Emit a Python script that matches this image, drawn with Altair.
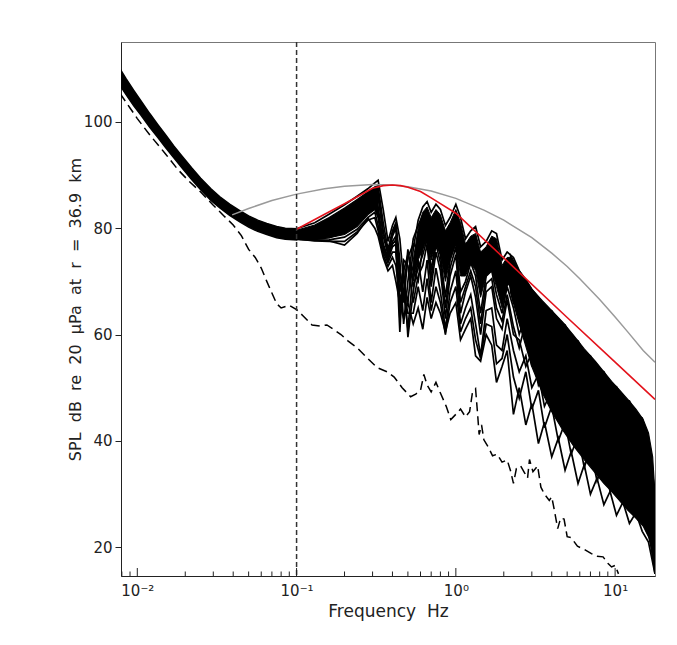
import altair as alt
import pandas as pd

# ---------------- data ----------------
# low-frequency bundle of curves (drawn as a filled band)
lf_freq = [0.0078, 0.0085, 0.0095, 0.0105, 0.012, 0.0135, 0.015, 0.017, 0.019, 0.022,
           0.025, 0.029, 0.033, 0.038, 0.044, 0.05, 0.057, 0.065, 0.075, 0.085, 0.1]
lf_upper = [109.9, 108.1, 105.9, 104.0, 101.5, 99.4, 97.6, 95.4, 93.6, 91.3,
            89.4, 87.4, 85.9, 84.5, 83.3, 82.3, 81.5, 80.9, 80.3, 80.0, 79.9]
lf_lower = [106.8, 105.1, 103.0, 101.3, 98.9, 97.0, 95.2, 93.2, 91.4, 89.1,
            87.2, 85.2, 83.8, 82.4, 81.2, 80.2, 79.4, 78.8, 78.2, 77.9, 77.8]

# 0.1 - 0.33 Hz dense part of the bundle
mid_freq = [0.1, 0.13, 0.16, 0.2, 0.24, 0.28, 0.31, 0.325]
mid_upper = [79.6, 80.6, 82.0, 83.8, 85.4, 86.8, 87.8, 88.0]
mid_lower = [78.0, 78.0, 78.2, 78.8, 80.3, 82.5, 83.5, 82.0]

# 0.55 - 2.2 Hz dense upper part of the fan
fan_freq = [0.54, 0.58, 0.62, 0.66, 0.7, 0.75, 0.8, 0.86, 0.92, 1.0, 1.07,
            1.15, 1.24, 1.33, 1.43, 1.55, 1.68, 1.8, 1.95, 2.1, 2.2]
fan_upper = [74.0, 80.0, 83.0, 84.0, 82.0, 83.5, 82.5, 79.5, 81.0, 83.5, 81.0,
             77.0, 78.5, 79.0, 75.5, 76.5, 78.5, 78.0, 73.0, 74.5, 74.5]
fan_lower = [70.0, 74.0, 76.0, 78.0, 74.0, 77.0, 75.0, 70.0, 74.0, 77.0, 71.0,
             71.0, 73.5, 72.0, 67.0, 71.0, 72.0, 69.0, 65.0, 69.0, 70.0]

# high-frequency dense part of the bundle
hf_freq = [2.2, 2.5, 3.0, 3.5, 4.0, 4.7, 5.5, 6.4, 7.5, 8.5, 9.5, 10.5, 12.0, 13.5, 15.0, 16.2, 17.2, 17.8]
hf_upper = [75.0, 72.0, 68.5, 66.3, 64.5, 62.3, 59.8, 57.3, 55.0, 53.0, 51.2, 49.8, 47.8, 46.0, 44.0, 41.5, 37.0, 30.0]
hf_lower = [68.0, 62.0, 54.0, 49.0, 45.5, 42.0, 39.0, 36.5, 34.0, 32.0, 30.5, 29.0, 27.0, 25.5, 24.0, 22.0, 19.0, 15.0]

# individual spectra from 0.1 Hz upward
grid_freq = [0.1, 0.13, 0.16, 0.2, 0.24, 0.28, 0.31, 0.325, 0.35, 0.375,
             0.4, 0.42, 0.445, 0.47, 0.5, 0.54, 0.58, 0.62, 0.66, 0.7,
             0.75, 0.8, 0.86, 0.92, 1.0, 1.07, 1.15, 1.24, 1.33, 1.43,
             1.55, 1.68, 1.8, 1.95, 2.1, 2.3, 2.5, 2.75, 3.0, 3.3,
             3.6, 4.0, 4.4, 4.85, 5.3, 5.85, 6.4, 7.0, 7.7, 8.5,
             9.3, 10.2, 11.2, 12.3, 13.5, 14.8, 16.2, 17.8]
curve1 = [79.9, 81.0, 82.6, 84.4, 86.0, 87.4, 88.5, 89.0, 83.5, 77.5,
          80.5, 82.0, 78.0, 70.0, 66.0, 76.0, 81.5, 84.0, 85.0, 83.0,
          84.5, 83.5, 80.5, 82.0, 84.5, 82.0, 78.0, 79.5, 80.3, 76.5,
          77.5, 79.5, 79.0, 74.0, 75.5, 74.5, 72.0, 70.3, 68.5, 67.0,
          65.0, 64.5, 62.5, 61.8, 59.5, 58.8, 56.5, 56.0, 53.5, 53.0,
          50.5, 50.2, 47.8, 47.5, 45.0, 44.3, 40.0, 30.0]
curve2 = [79.3, 80.0, 81.3, 83.2, 85.0, 86.5, 87.6, 87.8, 81.0, 76.0,
          79.5, 81.0, 74.0, 62.0, 70.0, 78.0, 80.5, 82.5, 83.0, 80.0,
          82.5, 81.0, 76.0, 80.0, 82.5, 78.0, 74.0, 77.5, 78.5, 72.0,
          75.5, 77.5, 76.0, 70.0, 73.5, 72.0, 68.0, 68.5, 64.0, 65.5,
          61.0, 62.5, 58.5, 60.0, 55.5, 57.0, 52.5, 54.0, 49.5, 51.0,
          46.5, 48.0, 44.0, 45.5, 41.5, 42.0, 37.0, 26.0]
curve3 = [78.7, 79.0, 80.0, 81.8, 83.8, 85.5, 86.8, 86.0, 78.5, 75.0,
          78.5, 80.0, 70.0, 66.0, 74.5, 77.0, 76.0, 80.0, 81.5, 76.0,
          80.5, 78.5, 72.0, 77.5, 80.0, 73.0, 72.0, 76.0, 75.5, 68.0,
          73.5, 75.0, 72.0, 67.0, 71.5, 66.0, 67.0, 61.0, 63.5, 58.0,
          61.0, 55.0, 58.5, 52.5, 55.5, 49.5, 52.5, 46.5, 49.5, 44.0,
          46.5, 41.5, 44.0, 39.0, 41.0, 36.5, 35.0, 22.0]
curve4 = [78.3, 78.4, 79.0, 80.5, 82.5, 84.3, 85.5, 84.0, 77.0, 74.5,
          77.5, 78.5, 65.0, 72.0, 75.0, 72.0, 70.0, 76.5, 79.5, 72.0,
          78.0, 75.0, 67.0, 74.0, 77.5, 68.0, 70.0, 73.5, 71.0, 64.0,
          71.0, 72.0, 67.5, 64.0, 69.0, 65.0, 60.0, 64.0, 56.0, 60.5,
          53.0, 57.5, 50.5, 55.0, 47.5, 52.0, 45.0, 49.0, 42.0, 46.0,
          39.5, 43.0, 37.5, 40.5, 35.5, 37.0, 31.0, 19.0]
curve5 = [78.0, 77.9, 78.2, 79.2, 81.0, 83.0, 84.0, 82.0, 76.0, 74.0,
          76.5, 77.0, 60.5, 74.0, 73.0, 66.0, 71.0, 73.0, 77.0, 69.0,
          75.5, 72.0, 63.0, 71.0, 75.0, 64.0, 68.0, 71.0, 67.0, 60.0,
          68.0, 69.0, 63.0, 61.0, 66.5, 60.0, 59.0, 54.0, 56.5, 50.5,
          53.0, 47.0, 50.0, 44.5, 47.0, 42.0, 44.5, 39.5, 42.0, 37.5,
          39.5, 35.0, 37.0, 33.0, 34.5, 31.5, 28.0, 17.0]
curve6 = [77.9, 77.7, 77.8, 78.3, 79.8, 82.0, 83.0, 80.5, 75.5, 73.5,
          75.5, 75.5, 68.0, 72.5, 59.5, 68.0, 74.0, 68.0, 74.0, 66.0,
          72.5, 68.0, 61.0, 68.0, 72.0, 62.0, 65.0, 67.5, 62.0, 56.0,
          64.5, 65.0, 58.0, 57.0, 63.0, 57.0, 53.0, 56.0, 50.0, 52.5,
          46.5, 49.5, 44.0, 47.0, 41.5, 44.0, 39.0, 41.5, 36.5, 39.0,
          34.0, 36.5, 32.0, 34.0, 30.0, 31.0, 26.0, 16.0]
curve7 = [78.2, 77.8, 77.6, 76.8, 79.0, 81.9, 80.0, 78.5, 74.5, 72.0,
          73.0, 70.0, 66.0, 63.0, 66.0, 62.0, 65.0, 61.0, 67.0, 63.0,
          66.0, 64.0, 60.5, 64.0, 66.0, 59.0, 61.0, 63.0, 56.0, 55.0,
          60.0, 58.0, 51.0, 54.0, 57.0, 45.0, 50.0, 43.0, 47.0, 39.5,
          43.5, 37.0, 40.5, 34.5, 38.0, 32.0, 35.5, 30.0, 33.0, 28.0,
          30.5, 26.0, 28.5, 24.5, 26.5, 23.0, 21.0, 15.0]
curve8 = [79.0, 79.5, 80.6, 82.5, 84.4, 86.0, 87.2, 86.8, 79.5, 75.5,
          79.0, 80.5, 72.0, 68.0, 61.0, 72.0, 79.0, 81.5, 82.0, 78.0,
          81.5, 80.0, 74.0, 79.0, 81.5, 75.5, 73.0, 77.0, 77.0, 70.0,
          74.5, 76.5, 74.0, 68.5, 72.5, 70.0, 66.0, 67.5, 62.0, 64.0,
          59.0, 61.0, 56.5, 59.0, 53.5, 56.0, 50.5, 53.0, 47.5, 50.0,
          45.0, 47.0, 42.5, 44.5, 40.0, 41.0, 36.0, 24.0]
curve9 = [78.1, 78.1, 78.6, 79.8, 81.8, 83.6, 84.8, 83.0, 76.5, 74.2,
          77.0, 77.8, 63.0, 68.0, 76.0, 69.0, 72.5, 75.0, 78.0, 70.5,
          77.0, 73.5, 65.0, 72.5, 76.5, 66.0, 69.0, 72.0, 69.0, 62.0,
          69.5, 70.5, 65.0, 62.5, 67.5, 61.5, 57.5, 62.5, 54.0, 59.0,
          51.0, 56.0, 48.5, 53.5, 46.0, 50.5, 43.0, 47.5, 40.0, 44.5,
          38.0, 41.5, 35.5, 39.0, 34.0, 35.5, 30.0, 17.5]
curve10 = [78.0, 77.6, 77.5, 77.5, 79.3, 81.5, 82.0, 79.5, 75.0, 72.8,
           74.5, 73.0, 67.0, 68.0, 64.0, 64.0, 69.0, 64.5, 70.5, 64.5,
           69.0, 66.0, 60.0, 66.0, 69.0, 60.5, 63.0, 65.0, 59.0, 55.5,
           62.0, 61.5, 54.5, 55.5, 60.0, 52.0, 48.0, 53.0, 46.0, 49.5,
           42.5, 46.5, 40.0, 43.5, 37.5, 41.0, 35.0, 38.5, 32.5, 36.0,
           30.5, 33.5, 28.5, 31.0, 27.0, 28.5, 23.5, 15.0]

# red model curve
red_freq = [0.1, 0.15, 0.2, 0.25, 0.3, 0.35, 0.4, 0.45, 0.5, 0.6, 0.7, 0.8, 1.0, 2.0, 5.0, 10.0, 17.8]
red_spl = [79.8, 82.6, 84.6, 86.2, 87.5, 88.0, 88.1, 88.0, 87.7, 86.9, 85.7, 84.6, 82.8, 74.4, 63.2, 54.8, 47.8]

# grey model curve
gray_freq = [0.0394, 0.05, 0.07, 0.1, 0.15, 0.2, 0.3, 0.4, 0.5, 0.7, 1.0, 1.5, 2.0,
             3.0, 4.0, 5.0, 6.0, 8.0, 10.0, 12.0, 15.0, 17.8]
gray_spl = [82.5, 83.7, 85.2, 86.4, 87.4, 87.9, 88.2, 88.1, 87.8, 87.0, 85.6, 83.4, 81.5,
            78.2, 75.3, 72.8, 70.5, 66.6, 63.3, 60.5, 57.0, 54.8]

# dashed (noise) curve
dash_freq = [0.0078, 0.009, 0.01, 0.012, 0.015, 0.018, 0.021, 0.025, 0.03, 0.035,
             0.04, 0.045, 0.05, 0.055, 0.06, 0.065, 0.07, 0.075, 0.08, 0.09,
             0.1, 0.11, 0.125, 0.14, 0.155, 0.17, 0.19, 0.21, 0.24, 0.28,
             0.32, 0.37, 0.41, 0.46, 0.52, 0.56, 0.6, 0.63, 0.66, 0.7,
             0.75, 0.8, 0.87, 0.93, 1.0, 1.07, 1.15, 1.22, 1.27, 1.33,
             1.37, 1.4, 1.45, 1.5, 1.6, 1.7, 1.82, 1.95, 2.1, 2.2,
             2.3, 2.4, 2.55, 2.7, 2.82, 2.9, 3.05, 3.26, 3.42, 3.6,
             3.86, 4.0, 4.16, 4.36, 4.55, 4.78, 5.0, 5.3, 5.8, 6.4,
             7.1, 7.7, 8.4, 9.0, 9.5, 10.0, 10.5]
dash_spl = [105.3, 102.6, 100.6, 97.5, 94.0, 91.0, 88.9, 86.8, 84.3, 82.3,
            80.6, 78.6, 76.0, 74.5, 72.5, 70.0, 67.8, 65.8, 65.0, 65.5,
            64.7, 63.5, 61.8, 61.6, 61.8, 61.0, 60.0, 58.8, 57.5, 55.5,
            53.8, 53.0, 52.0, 50.0, 48.3, 48.8, 49.5, 52.5, 50.5, 49.2,
            51.0, 49.0, 46.5, 44.0, 45.0, 46.0, 44.5, 45.5, 49.0, 49.8,
            45.0, 41.2, 43.0, 40.2, 38.8, 37.2, 37.5, 36.0, 36.4, 34.5,
            32.0, 34.8, 35.3, 34.0, 33.0, 36.5, 34.2, 35.3, 31.3, 30.0,
            28.8, 29.5, 26.9, 23.5, 25.5, 25.3, 22.0, 21.8, 20.2, 19.6,
            18.8, 18.3, 18.2, 17.0, 16.3, 16.6, 15.0]

cutoff_freq = [0.1]

# axes
x_major = [0.01, 0.1, 1, 10]
x_major_labels = ["10\u207b\u00b2", "10\u207b\u00b9", "10\u2070", "10\u00b9"]
x_minor = [0.008, 0.009, 0.02, 0.03, 0.04, 0.05, 0.06, 0.07, 0.08, 0.09,
           0.2, 0.3, 0.4, 0.5, 0.6, 0.7, 0.8, 0.9, 2, 3, 4, 5, 6, 7, 8, 9]
y_ticks = [20, 40, 60, 80, 100]
x_domain = [0.0079, 17.8]
y_domain = [14.6, 115.0]

x_title_words = ["Frequency", "Hz"]
y_title_words = ["SPL", "dB", "re", "20", "\u03bcPa", "at", "r", "=", "36.9", "km"]

# ---------------- build tables ----------------
curves = [curve1, curve2, curve3, curve4, curve5, curve6, curve7, curve8, curve9, curve10]
for c in curves:
    assert len(c) == len(grid_freq), len(c)
assert len(dash_freq) == len(dash_spl)

W, H = 534, 534
FONT = "DejaVu Sans"
TXT = "#222222"
GAP = "\u00a0\u00a0"  # wide word gap as in the original typesetting

lf_df = pd.DataFrame({"f": lf_freq, "hi": lf_upper, "lo": lf_lower})
mid_df = pd.DataFrame({"f": mid_freq, "hi": mid_upper, "lo": mid_lower})
fan_df = pd.DataFrame({"f": fan_freq, "hi": fan_upper, "lo": fan_lower})
hf_df = pd.DataFrame({"f": hf_freq, "hi": hf_upper, "lo": hf_lower})
curve_df = pd.concat([
    pd.DataFrame({"f": grid_freq, "spl": c, "run": i}) for i, c in enumerate(curves)
])
red_df = pd.DataFrame({"f": red_freq, "spl": red_spl})
gray_df = pd.DataFrame({"f": gray_freq, "spl": gray_spl})
dash_df = pd.DataFrame({"f": dash_freq, "spl": dash_spl})
cut_df = pd.DataFrame({"f": cutoff_freq})

# inward x ticks (8 px major, 4.5 px minor) expressed in data units of the y scale
px = (y_domain[1] - y_domain[0]) / H
tick_df = pd.DataFrame({
    "f": x_major + x_minor,
    "y0": [y_domain[0]] * (len(x_major) + len(x_minor)),
    "y1": [y_domain[0] + 8 * px] * len(x_major) + [y_domain[0] + 4.5 * px] * len(x_minor),
})

xs = alt.Scale(type="log", domain=x_domain, nice=False)
ys = alt.Scale(domain=y_domain, nice=False, zero=False)

label_expr = " : ".join(
    f"datum.value == {v} ? '{l}'" for v, l in zip(x_major, x_major_labels)
) + " : ''"

X_AXIS = alt.Axis(values=x_major, labelExpr=label_expr, ticks=False,
                  grid=False, title=GAP.join(x_title_words), labelFontSize=15,
                  titleFontSize=17, titleFontWeight="normal", labelPadding=7,
                  titlePadding=5, domainColor=TXT, labelColor=TXT, titleColor=TXT,
                  labelFont=FONT, titleFont=FONT, labelFlush=False)
Y_AXIS = alt.Axis(values=y_ticks, tickSize=6, grid=False,
                  title=GAP.join(y_title_words),
                  labelFontSize=15, titleFontSize=16, titleFontWeight="normal",
                  labelPadding=3, titlePadding=0, domainColor=TXT, tickColor=TXT,
                  labelColor=TXT, titleColor=TXT, labelFont=FONT, titleFont=FONT)

def X(field="f"):
    return alt.X(f"{field}:Q", scale=xs, axis=X_AXIS)

def Y(field):
    return alt.Y(f"{field}:Q", scale=ys, axis=Y_AXIS)

def band(df, sw=1.2):
    return alt.Chart(df).mark_area(color="black", stroke="black", strokeWidth=sw, clip=True).encode(
        x=X(), y=Y("hi"), y2="lo:Q",
    )

lf_layer = band(lf_df, 1.5)
mid_layer = band(mid_df)
fan_layer = band(fan_df, 1.0)
hf_layer = band(hf_df)

curve_layer = alt.Chart(curve_df).mark_line(color="black", strokeWidth=1.7, clip=True).encode(
    x=X(), y=Y("spl"), detail="run:N",
)
gray_layer = alt.Chart(gray_df).mark_line(color="#9a9a9a", strokeWidth=1.5, clip=True).encode(
    x=X(), y=Y("spl"),
)
red_layer = alt.Chart(red_df).mark_line(color="#e3121b", strokeWidth=1.6, clip=True).encode(
    x=X(), y=Y("spl"),
)
dash_layer = alt.Chart(dash_df).mark_line(color="black", strokeWidth=1.5, strokeDash=[9, 5], clip=True).encode(
    x=X(), y=Y("spl"),
)
cut_layer = alt.Chart(cut_df).mark_rule(color="#333333", strokeWidth=1.5, strokeDash=[5, 3]).encode(
    x=X(),
)
tick_layer = alt.Chart(tick_df).mark_rule(color=TXT, strokeWidth=1).encode(
    x=X(), y=Y("y0"), y2="y1:Q",
)

chart = alt.layer(
    lf_layer, mid_layer, fan_layer, hf_layer, curve_layer,
    gray_layer, red_layer, dash_layer, cut_layer, tick_layer
).properties(
    width=W, height=H,
    autosize=alt.AutoSizeParams(type="none"),
    padding={"left": 121, "top": 42, "right": 22, "bottom": 69},
    background="white",
).configure_view(stroke="#777777", strokeWidth=1)

chart.save("out.html", embed_options={"renderer": "svg", "actions": False})
